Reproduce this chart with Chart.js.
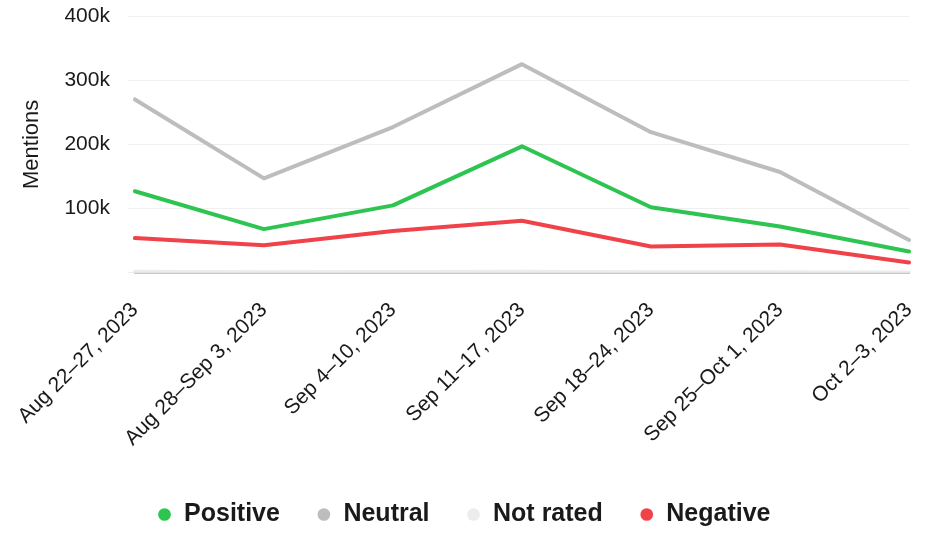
<!DOCTYPE html>
<html>
<head>
<meta charset="utf-8">
<script src="https://cdn.jsdelivr.net/npm/chart.js@4/dist/chart.umd.min.js"></script>
<style>
  html, body { margin: 0; padding: 0; background: #fff; }
  #wrap { width: 932px; height: 552px; }
</style>
</head>
<body>
<div id="wrap"><canvas id="mentionsChart"></canvas></div>
<script>
var weeks = ["Aug 22\u201327, 2023", "Aug 28\u2013Sep 3, 2023", "Sep 4\u201310, 2023", "Sep 11\u201317, 2023",
             "Sep 18\u201324, 2023", "Sep 25\u2013Oct 1, 2023", "Oct 2\u20133, 2023"];
var positive = [127000, 68000, 105000, 197000, 102000, 72000, 33000];
var neutral  = [270000, 147000, 227000, 325000, 219000, 157000, 51000];
var notRated = [1500, 1000, 1200, 1500, 1000, 1000, 500];
var negative = [54000, 43000, 65000, 81000, 41000, 44000, 16000];

var fontFamily = "Helvetica, Arial, 'Liberation Sans', sans-serif";

function renderChart() {
    var ctx = document.getElementById("mentionsChart").getContext("2d");

    var chartData = {
        labels: weeks,
        datasets: [{
            label: "Positive",
            data: positive,
            borderColor: "#2ec451",
            backgroundColor: "#2ec451"
        }, {
            label: "Neutral",
            data: neutral,
            borderColor: "#bdbdbd",
            backgroundColor: "#bdbdbd"
        }, {
            label: "Not rated",
            data: notRated,
            borderColor: "#ececec",
            backgroundColor: "#ececec"
        }, {
            label: "Negative",
            data: negative,
            borderColor: "#f04249",
            backgroundColor: "#f04249"
        }]
    };

    var chartOptions = {
        responsive: true,
        maintainAspectRatio: false,
        animation: false,
        layout: { padding: { left: 19, right: 23, top: 16, bottom: 15 } },
        elements: {
            line: { borderWidth: 4, tension: 0, borderCapStyle: "round", borderJoinStyle: "round" },
            point: { radius: 0 }
        },
        plugins: {
            legend: {
                position: "bottom",
                labels: {
                    usePointStyle: true,
                    pointStyle: "circle",
                    boxWidth: 14,
                    boxHeight: 9,
                    padding: 37,
                    color: "#1a1a1a",
                    font: { family: fontFamily, size: 25, weight: "bold" },
                    generateLabels: function(chart) {
                        var items = Chart.defaults.plugins.legend.labels.generateLabels(chart);
                        items.forEach(function(item) { item.lineWidth = 0; });
                        return items;
                    }
                }
            },
            tooltip: { enabled: false }
        },
        scales: {
            x: {
                grid: { display: true, drawOnChartArea: false, drawTicks: true, tickLength: 20, tickColor: "rgba(0,0,0,0)" },
                border: { display: true, color: "#c8c8c8", width: 2 },
                afterFit: function(scale) { scale.height += 9; },
                ticks: {
                    color: "#1a1a1a",
                    maxRotation: 45,
                    minRotation: 45,
                    padding: 5,
                    font: { family: fontFamily, size: 21 }
                }
            },
            y: {
                min: 0,
                max: 400000,
                title: {
                    display: true,
                    text: "Mentions",
                    color: "#1a1a1a",
                    padding: { top: 0, bottom: 16 },
                    font: { family: fontFamily, size: 22 }
                },
                border: { display: false },
                grid: {
                    color: "#efefef",
                    lineWidth: 1,
                    drawTicks: true,
                    tickLength: 22,
                    tickColor: "#efefef",
                    tickBorderDash: [0, 15, 7, 100]
                },
                ticks: {
                    stepSize: 100000,
                    padding: 3,
                    color: "#1a1a1a",
                    font: { family: fontFamily, size: 21 },
                    callback: function(value) {
                        return value === 0 ? "" : (value / 1000) + "k";
                    }
                }
            }
        }
    };

    new Chart(ctx, {
        type: "line",
        data: chartData,
        options: chartOptions
    });
}

renderChart();
</script>
</body>
</html>
